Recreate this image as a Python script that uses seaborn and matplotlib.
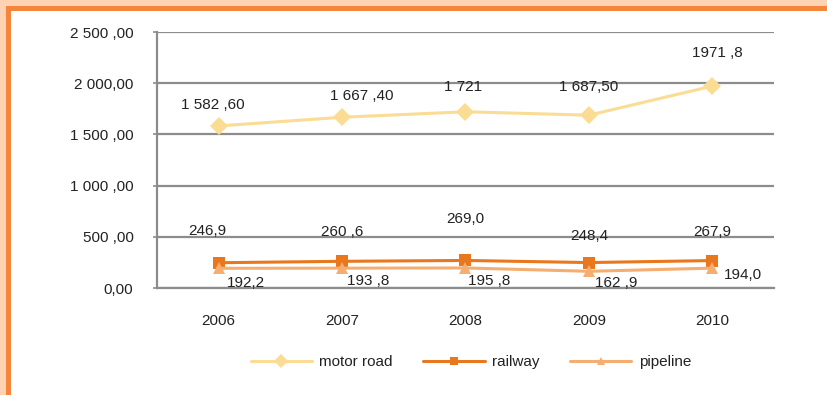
import matplotlib
matplotlib.use("Agg")
import matplotlib.pyplot as plt
import matplotlib.patches as mpatches
import seaborn as sns
import pandas as pd

years = ["2006", "2007", "2008", "2009", "2010"]
motor_road = [1582.6, 1667.4, 1721.0, 1687.5, 1971.8]
railway = [246.9, 260.6, 269.0, 248.4, 267.9]
pipeline = [192.2, 193.8, 195.8, 162.9, 194.0]

motor_labels = ["1 582 ,60", "1 667 ,40", "1 721", "1 687,50", "1971 ,8"]
railway_labels = ["246,9", "260 ,6", "269,0", "248,4", "267,9"]
pipeline_labels = ["192,2", "193 ,8", "195 ,8", "162 ,9", "194,0"]

y_ticks = [0, 500, 1000, 1500, 2000, 2500]
y_tick_labels = ["0,00", "500 ,00", "1 000 ,00", "1 500 ,00", "2 000,00", "2 500 ,00"]

series_names = ["motor road", "railway", "pipeline"]
colors = {"motor road": "#FADC94", "railway": "#E8771E", "pipeline": "#F5AE72"}
markers = {"motor road": "D", "railway": "s", "pipeline": "^"}

df = pd.DataFrame({
    "year": years * 3,
    "value": motor_road + railway + pipeline,
    "series": sum([[n] * len(years) for n in series_names], []),
})
df["x"] = df.groupby("series").cumcount()

sns.set_theme(style="white")
plt.rcParams["font.family"] = ["Liberation Sans", "DejaVu Sans"]

W, H = 828, 395
fig = plt.figure(figsize=(W / 100, H / 100), dpi=100)
fig.patch.set_facecolor("#FDD3B4")
# orange frame and white card behind the chart
fig.patches.append(mpatches.Rectangle((6 / W, 0), 1, 1 - 6 / H, transform=fig.transFigure,
                                      facecolor="#F5853A", edgecolor="none", zorder=-10))
fig.patches.append(mpatches.Rectangle((11 / W, 0), 1, 1 - 11 / H, transform=fig.transFigure,
                                      facecolor="white", edgecolor="none", zorder=-9))

ax = fig.add_axes([157 / W, 1 - 288 / H, (774 - 157) / W, (288 - 32) / H])
ax.set_facecolor("none")

sizes = {"motor road": 9.5, "railway": 8, "pipeline": 8}
for name in series_names:
    sub = df[df["series"] == name]
    sns.lineplot(data=sub, x="x", y="value", ax=ax, color=colors[name], lw=2.2,
                 marker=markers[name], markersize=sizes[name], markeredgewidth=0,
                 label=name, legend=False)

ax.set_xlim(-0.5, 4.5)
ax.set_ylim(0, 2500)
ax.set_yticks(y_ticks)
ax.set_yticklabels(y_tick_labels)
ax.set_xticks(range(len(years)))
ax.set_xticklabels(years)
ax.grid(axis="y", color="#8C8C8C", lw=1.6)
ax.set_axisbelow(True)
for s in ["top", "right"]:
    ax.spines[s].set_visible(False)
ax.spines["left"].set_color("#8C8C8C")
ax.spines["left"].set_linewidth(1.6)
ax.spines["bottom"].set_color("#8C8C8C")
ax.spines["bottom"].set_linewidth(1.6)
ax.tick_params(axis="y", left=True, length=3, width=1.2, color="#8C8C8C", pad=14,
               labelsize=11, labelcolor="#222222")
ax.tick_params(axis="x", length=0, pad=19, labelsize=11, labelcolor="#222222")
ax.set_xlabel("")
ax.set_ylabel("")

label_offsets = {
    "motor road": [(-6, 21), (20, 21), (-2, 25), (0, 28), (5, 33)],
    "railway": [(-11, 32), (0, 29), (0, 41), (0, 27), (0, 29)],
    "pipeline": [(27, -15), (26, -13), (24, -13), (27, -12), (31, -7)],
}
label_texts = {"motor road": motor_labels, "railway": railway_labels, "pipeline": pipeline_labels}
values = {"motor road": motor_road, "railway": railway, "pipeline": pipeline}
for name in series_names:
    for i, (v, t) in enumerate(zip(values[name], label_texts[name])):
        dx, dy = label_offsets[name][i]
        ax.annotate(t, (i, v), xytext=(dx, dy), textcoords="offset pixels",
                    ha="center", va="center", fontsize=11, color="#222222")

handles, labels = ax.get_legend_handles_labels()
leg = fig.legend(handles, labels, loc="center", bbox_to_anchor=(471 / W, 1 - 362 / H),
                 ncol=3, frameon=False, fontsize=11, handlelength=4.0,
                 columnspacing=2.0, handletextpad=0.5, markerscale=0.75)
for t in leg.get_texts():
    t.set_color("#222222")

fig.savefig("out.png", dpi=100)
